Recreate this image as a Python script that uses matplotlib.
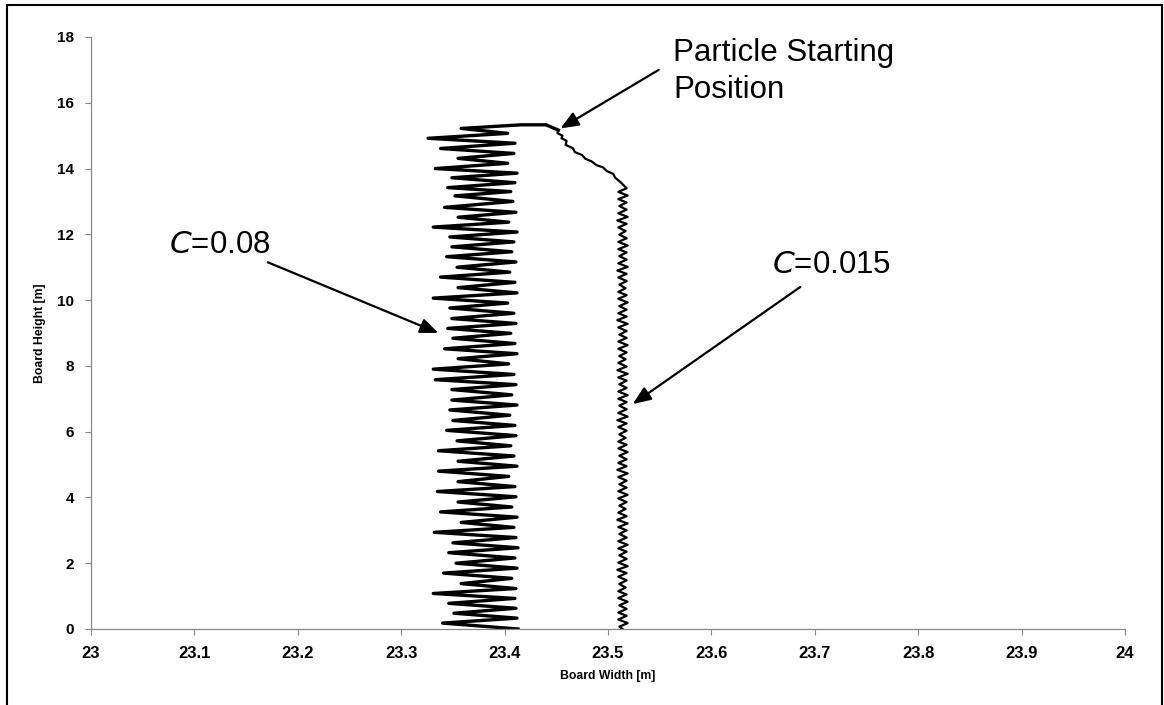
import numpy as np
import matplotlib
matplotlib.use("Agg")
import matplotlib.pyplot as plt
from matplotlib.patches import Rectangle

# C=0.08 trajectory: left / right turning points (top to bottom)
start_08_x = [23.452, 23.440, 23.416]
start_08_y = [15.17, 15.33, 15.33]
x08_left = [23.358, 23.326, 23.338, 23.355, 23.333, 23.349, 23.345, 23.352, 23.342, 23.355,
            23.331, 23.347, 23.349, 23.344, 23.354, 23.338, 23.355, 23.331, 23.347, 23.349,
            23.345, 23.350, 23.342, 23.355, 23.331, 23.333, 23.349, 23.349, 23.347, 23.350,
            23.344, 23.354, 23.336, 23.355, 23.336, 23.355, 23.335, 23.355, 23.338, 23.358,
            23.332, 23.350, 23.346, 23.353, 23.341, 23.358, 23.331, 23.346, 23.351, 23.340]
y08_left = [15.22, 14.92, 14.61, 14.31, 14.00, 13.72, 13.42, 13.17, 12.82, 12.52,
            12.22, 11.92, 11.62, 11.32, 11.00, 10.70, 10.38, 10.06, 9.76, 9.44,
            9.14, 8.84, 8.52, 8.22, 7.90, 7.58, 7.28, 6.96, 6.66, 6.34,
            6.04, 5.72, 5.42, 5.10, 4.80, 4.48, 4.18, 3.86, 3.56, 3.24,
            2.94, 2.62, 2.32, 2.00, 1.70, 1.38, 1.08, 0.78, 0.48, 0.18]
x08_right = [23.403, 23.410, 23.409, 23.403, 23.412, 23.410, 23.406, 23.408, 23.411, 23.404,
             23.412, 23.409, 23.407, 23.411, 23.405, 23.410, 23.412, 23.403, 23.409, 23.411,
             23.406, 23.410, 23.412, 23.404, 23.409, 23.411, 23.407, 23.412, 23.405, 23.410,
             23.411, 23.406, 23.409, 23.412, 23.404, 23.410, 23.411, 23.407, 23.412, 23.409,
             23.411, 23.413, 23.410, 23.412, 23.407, 23.411, 23.410, 23.411, 23.412, 23.413]
y08_right = [15.07, 14.77, 14.46, 14.16, 13.86, 13.57, 13.30, 13.00, 12.67, 12.37,
             12.07, 11.77, 11.47, 11.16, 10.85, 10.54, 10.22, 9.91, 9.60, 9.29,
             8.99, 8.68, 8.37, 8.06, 7.74, 7.43, 7.12, 6.81, 6.50, 6.19,
             5.88, 5.57, 5.26, 4.95, 4.64, 4.33, 4.02, 3.71, 3.40, 3.09,
             2.78, 2.47, 2.16, 1.85, 1.54, 1.23, 0.93, 0.63, 0.33, 0.00]

# C=0.015 trajectory: drift from the start, then small oscillation
start_015_x = [23.452, 23.451, 23.456, 23.455, 23.460, 23.459, 23.466, 23.468, 23.475,
               23.478, 23.484, 23.489, 23.495, 23.499, 23.505, 23.507, 23.512]
start_015_y = [15.17, 15.08, 15.00, 14.92, 14.84, 14.72, 14.62, 14.50, 14.41,
               14.30, 14.22, 14.10, 14.04, 13.92, 13.84, 13.72, 13.59]
x015_right = [23.518, 23.519, 23.518, 23.518, 23.519, 23.518, 23.517, 23.518, 23.519, 23.518,
              23.518, 23.519, 23.518, 23.518, 23.517, 23.518, 23.519, 23.518, 23.518, 23.519,
              23.518, 23.518, 23.519, 23.518, 23.517, 23.518, 23.519, 23.518, 23.518, 23.519,
              23.518, 23.518, 23.519, 23.518, 23.518, 23.517, 23.518, 23.519, 23.518, 23.518,
              23.519, 23.518, 23.518, 23.519, 23.518, 23.517, 23.518, 23.519, 23.518, 23.518,
              23.519, 23.518, 23.518, 23.519, 23.518, 23.518, 23.517, 23.518, 23.519, 23.518,
              23.518, 23.519]
y015_right = [13.40, 13.18, 12.97, 12.75, 12.53, 12.32, 12.10, 11.88, 11.66, 11.45,
              11.23, 11.01, 10.80, 10.58, 10.36, 10.15, 9.93, 9.71, 9.50, 9.28,
              9.06, 8.85, 8.63, 8.41, 8.20, 7.98, 7.76, 7.55, 7.33, 7.11,
              6.90, 6.68, 6.46, 6.25, 6.03, 5.81, 5.60, 5.38, 5.16, 4.95,
              4.73, 4.51, 4.30, 4.08, 3.86, 3.65, 3.43, 3.21, 3.00, 2.78,
              2.56, 2.35, 2.13, 1.91, 1.70, 1.48, 1.26, 1.05, 0.83, 0.61,
              0.40, 0.18]
x015_left = [23.510, 23.510, 23.511, 23.510, 23.509, 23.510, 23.511, 23.510, 23.510, 23.511,
             23.510, 23.509, 23.510, 23.511, 23.510, 23.510, 23.511, 23.510, 23.509, 23.510,
             23.511, 23.510, 23.510, 23.511, 23.510, 23.509, 23.510, 23.511, 23.510, 23.510,
             23.511, 23.510, 23.509, 23.510, 23.511, 23.510, 23.510, 23.511, 23.510, 23.509,
             23.510, 23.511, 23.510, 23.510, 23.511, 23.510, 23.509, 23.510, 23.511, 23.510,
             23.510, 23.511, 23.510, 23.509, 23.510, 23.511, 23.510, 23.510, 23.511, 23.510,
             23.510, 23.511]
y015_left = [13.29, 13.07, 12.86, 12.64, 12.42, 12.21, 11.99, 11.77, 11.55, 11.34,
             11.12, 10.90, 10.69, 10.47, 10.25, 10.04, 9.82, 9.60, 9.39, 9.17,
             8.95, 8.74, 8.52, 8.30, 8.09, 7.87, 7.65, 7.44, 7.22, 7.00,
             6.79, 6.57, 6.35, 6.14, 5.92, 5.70, 5.49, 5.27, 5.05, 4.84,
             4.62, 4.40, 4.19, 3.97, 3.75, 3.54, 3.32, 3.10, 2.89, 2.67,
             2.45, 2.24, 2.02, 1.80, 1.59, 1.37, 1.15, 0.94, 0.72, 0.50,
             0.29, 0.07]
end_015 = (23.514, 0.0)

xticks = [23, 23.1, 23.2, 23.3, 23.4, 23.5, 23.6, 23.7, 23.8, 23.9, 24]
xtick_labels = ["23", "23.1", "23.2", "23.3", "23.4", "23.5", "23.6", "23.7", "23.8", "23.9", "24"]
yticks = [0, 2, 4, 6, 8, 10, 12, 14, 16, 18]

# build the paths
x08 = list(start_08_x)
y08 = list(start_08_y)
for xl, yl, xr, yr in zip(x08_left, y08_left, x08_right, y08_right):
    x08 += [xl, xr]
    y08 += [yl, yr]

x015 = list(start_015_x)
y015 = list(start_015_y)
for xr, yr, xl, yl in zip(x015_right, y015_right, x015_left, y015_left):
    x015 += [xr, xl]
    y015 += [yr, yl]
x015.append(end_015[0])
y015.append(end_015[1])

plt.rcParams['font.family'] = ['Liberation Sans', 'DejaVu Sans']

fig = plt.figure(figsize=(11.64, 7.05), dpi=100)
ax = fig.add_axes([91 / 1164, 1 - 629 / 705, (1125 - 91) / 1164, (629 - 37) / 705])

ax.plot(x08, y08, color="black", lw=2.4, solid_joinstyle="round")
ax.plot(x015, y015, color="black", lw=1.6, solid_joinstyle="round")

ax.set_xlim(23, 24)
ax.set_ylim(0, 18)
ax.set_xticks(xticks)
ax.set_xticklabels(xtick_labels)
ax.set_yticks(yticks)

for s in ["top", "right"]:
    ax.spines[s].set_visible(False)
for s in ["left", "bottom"]:
    ax.spines[s].set_color("#888888")
    ax.spines[s].set_linewidth(0.9)
ax.tick_params(axis="both", direction="out", length=4, color="#888888", width=0.8)
ax.tick_params(axis="x", pad=8, labelsize=12)
ax.tick_params(axis="y", pad=8, labelsize=11)
for lab in ax.get_xticklabels() + ax.get_yticklabels():
    lab.set_fontweight("bold")

ax.set_xlabel("Board Width [m]", fontsize=8.8, fontweight="bold", labelpad=7)
ax.set_ylabel("Board Height [m]", fontsize=8.8, fontweight="bold", labelpad=8)

# annotations
arrow = dict(arrowstyle="-|>,head_length=1.1,head_width=0.45", color="black", lw=1.6,
             shrinkA=0, shrinkB=0)
ax.annotate("", xy=(23.454, 15.22), xytext=(23.549, 17.0), arrowprops=arrow)
ax.annotate("", xy=(23.336, 9.0), xytext=(23.171, 11.15), arrowprops=arrow)
ax.annotate("", xy=(23.524, 6.84), xytext=(23.686, 10.40), arrowprops=arrow)

ax.text(23.563, 16.95, "Particle Starting\nPosition", fontsize=22.5, ha="left", va="center",
        linespacing=1.3)
ax.text(23.075, 11.67, "$\\mathit{C}$=0.08", fontsize=22.5, ha="left", va="center")
ax.text(23.659, 11.07, "$\\mathit{C}$=0.015", fontsize=22.5, ha="left", va="center")

# outer frame of the original figure
fig.patches.append(Rectangle((7 / 1164, -0.05), (1162 - 7) / 1164, 1.05 - 5 / 705,
                             transform=fig.transFigure, fill=False, lw=1.5,
                             edgecolor="black"))

fig.savefig("out.png", dpi=100)
